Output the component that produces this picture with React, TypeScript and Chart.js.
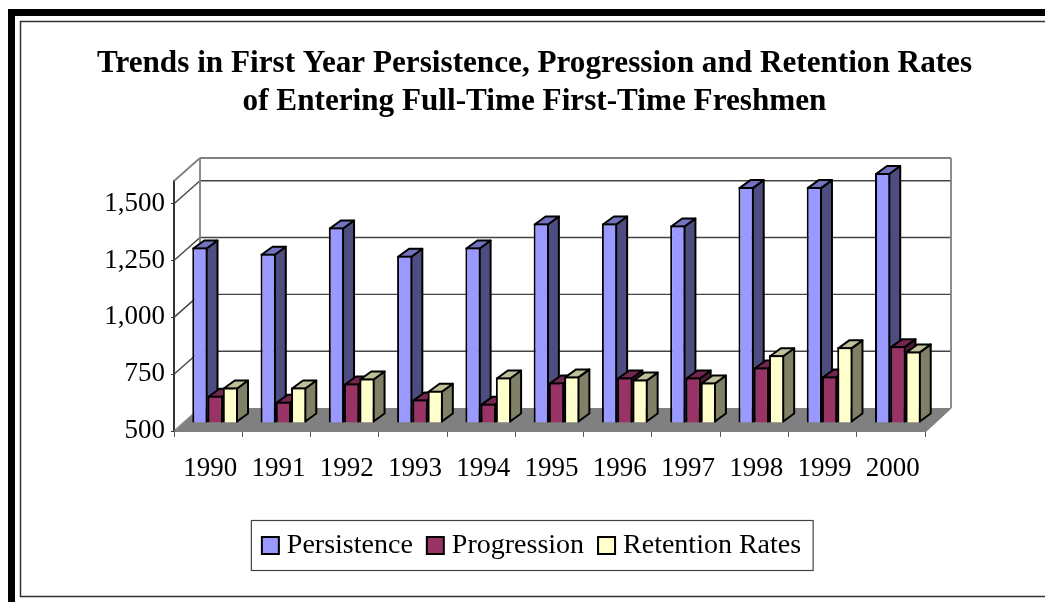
import React, { useEffect, useRef } from "react";
import { Chart, registerables } from "chart.js";

Chart.register(...registerables);

const years = ["1990", "1991", "1992", "1993", "1994", "1995", "1996", "1997", "1998", "1999", "2000"];
const persistence = [1272, 1245, 1360, 1236, 1272, 1378, 1378, 1369, 1538, 1538, 1600];
const progression = [620, 594, 674, 603, 585, 678, 700, 700, 744, 705, 838];
const retention = [656, 656, 696, 642, 700, 705, 691, 678, 798, 833, 815];
const yTickValues = [500, 750, 1000, 1250, 1500];
const titleLines = [
  "Trends in First Year Persistence, Progression and Retention Rates",
  "of Entering Full-Time First-Time Freshmen",
];

const FONT = "'Liberation Serif', 'Times New Roman', serif";
const shades = [
  { front: "#9999FF", side: "#4D4D80", top: "#7373BF" },
  { front: "#993366", side: "#4D1A33", top: "#732650" },
  { front: "#FFFFCC", side: "#808066", top: "#BFBF99" },
];
const WALL_DX = 26;
const WALL_DY = 23;
const BAR_SHIFT_X = 7;
const BAR_SHIFT_Y = -8;
const BAR_DX = 11;
const BAR_DY = 8;

function poly(ctx: CanvasRenderingContext2D, pts: number[][], fill?: string, stroke?: string, lw = 2) {
  ctx.beginPath();
  pts.forEach((p, i) => (i ? ctx.lineTo(p[0], p[1]) : ctx.moveTo(p[0], p[1])));
  ctx.closePath();
  if (fill) {
    ctx.fillStyle = fill;
    ctx.fill();
  }
  if (stroke) {
    ctx.strokeStyle = stroke;
    ctx.lineWidth = lw;
    ctx.lineJoin = "round";
    ctx.stroke();
  }
}

function line(ctx: CanvasRenderingContext2D, x1: number, y1: number, x2: number, y2: number, color: string, lw: number) {
  ctx.beginPath();
  ctx.moveTo(x1, y1);
  ctx.lineTo(x2, y2);
  ctx.strokeStyle = color;
  ctx.lineWidth = lw;
  ctx.stroke();
}

const framePlugin = {
  id: "frame",
  beforeDraw(chart: any) {
    const { ctx, width, height } = chart;
    ctx.save();
    ctx.fillStyle = "#fff";
    ctx.fillRect(0, 0, width, height);
    ctx.fillStyle = "#000";
    ctx.fillRect(8, 9, width - 8, 7);
    ctx.fillRect(8, 9, 7, height - 9);
    ctx.strokeStyle = "#333";
    ctx.lineWidth = 1.5;
    ctx.beginPath();
    ctx.moveTo(width, 21.5);
    ctx.lineTo(20.5, 21.5);
    ctx.lineTo(20.5, 596.5);
    ctx.lineTo(width, 596.5);
    ctx.stroke();
    ctx.restore();
  },
};

const box3dPlugin = {
  id: "box3d",
  beforeDatasetsDraw(chart: any) {
    const { ctx, chartArea: a } = chart;
    const y = chart.scales.y;
    ctx.save();
    const bl = a.left + WALL_DX;
    const br = a.right + WALL_DX;
    const bt = a.top - WALL_DY;
    const bb = a.bottom - WALL_DY;
    poly(ctx, [[a.left, a.bottom + 1], [bl, bb], [br, bb], [a.right, a.bottom + 1]], "#808080");
    y.ticks.forEach((t: any) => {
      if (t.value === y.min) return;
      const py = y.getPixelForValue(t.value);
      line(ctx, a.left, py, bl, py - WALL_DY, "#444", 1.4);
      line(ctx, bl, py - WALL_DY, br, py - WALL_DY, "#444", 1.4);
    });
    line(ctx, a.left, a.bottom, bl, bb, "#808080", 1.4);
    line(ctx, a.left, a.top, bl, bt, "#808080", 1.8);
    line(ctx, bl, bt, br, bt, "#808080", 1.8);
    line(ctx, bl, bt, bl, bb, "#808080", 1.8);
    line(ctx, br, bt, br, bb, "#808080", 1.8);
    line(ctx, a.right, a.bottom + 1, br, bb, "#808080", 1.4);

    // Bars, drawn first series first so later series overlap the sides of earlier ones.
    chart.data.datasets.forEach((_: any, i: number) => {
      const meta = chart.getDatasetMeta(i);
      const s = shades[i];
      ctx.save();
      ctx.translate(BAR_SHIFT_X, BAR_SHIFT_Y);
      meta.data.forEach((el: any) => {
        const p = el.getProps(["x", "y", "base", "width"], true);
        const l = p.x - p.width / 2 + 1;
        const r = p.x + p.width / 2 - 1;
        const t = p.y + 1;
        const b = p.base - 1;
        poly(ctx, [[r, t], [r + BAR_DX, t - BAR_DY], [r + BAR_DX, b - BAR_DY], [r, b]], s.side, "#000");
        poly(ctx, [[l, t], [l + BAR_DX, t - BAR_DY], [r + BAR_DX, t - BAR_DY], [r, t]], s.top, "#000");
      });
      meta.controller.draw();
      ctx.restore();
    });
    ctx.restore();
  },
  beforeDatasetDraw() {
    return false;
  },
  afterDraw(chart: any) {
    const { ctx, legend } = chart;
    const hits = legend.legendHitBoxes;
    ctx.save();
    hits.forEach((h: any, i: number) => {
      const cy = h.top + h.height / 2;
      ctx.fillStyle = shades[i].front;
      ctx.strokeStyle = "#000";
      ctx.lineWidth = 2;
      ctx.fillRect(h.left - 6, cy - 9, 17, 17);
      ctx.strokeRect(h.left - 6, cy - 9, 17, 17);
    });
    const last = hits[hits.length - 1];
    const top = hits[0].top + hits[0].height / 2 - 25.5;
    ctx.strokeStyle = "#444";
    ctx.lineWidth = 1.2;
    ctx.strokeRect(hits[0].left - 16.5, top, last.left + last.width - hits[0].left + 28.5, 50);
    ctx.restore();
  },
};

export default function App() {
  const ref = useRef<HTMLCanvasElement>(null);
  useEffect(() => {
    document.body.style.margin = "0";
    const chart = new Chart(ref.current as HTMLCanvasElement, {
      type: "bar",
      data: {
        labels: years,
        datasets: [
          { label: "Persistence", data: persistence, backgroundColor: shades[0].front },
          { label: "Progression", data: progression, backgroundColor: shades[1].front },
          { label: "Retention Rates", data: retention, backgroundColor: shades[2].front },
        ].map((d) => ({
          ...d,
          borderColor: "#000",
          borderWidth: 2,
          barPercentage: 1,
          categoryPercentage: 0.67,
          base: 500,
          clip: false,
        })) as any,
      },
      options: {
        responsive: false,
        animation: false,
        layout: { padding: { left: 24, right: 0, top: 0, bottom: 32 } },
        plugins: {
          tooltip: { enabled: false },
          title: {
            display: true,
            text: titleLines,
            color: "#000",
            font: { family: FONT, size: 31.2, weight: "bold", lineHeight: 1.218 },
            padding: { top: 45, bottom: 60 },
          },
          legend: {
            position: "bottom",
            onClick: () => {},
            labels: {
              color: "#000",
              boxWidth: 5,
              boxHeight: 5,
              padding: 20,
              font: { family: FONT, size: 28 },
              generateLabels: (c: any) =>
                c.data.datasets.map((d: any, i: number) => ({
                  text: d.label,
                  fillStyle: "rgba(0,0,0,0)",
                  strokeStyle: "rgba(0,0,0,0)",
                  lineWidth: 0,
                  datasetIndex: i,
                  fontColor: "#000",
                })),
            },
          },
        },
        scales: {
          x: {
            type: "category",
            offset: true,
            border: { display: true, color: "#000", width: 2 },
            grid: { drawOnChartArea: false, drawTicks: true, tickLength: 6, tickColor: "#555", offset: true },
            ticks: {
              color: "#000",
              padding: 16,
              labelOffset: 2,
              maxRotation: 0,
              autoSkip: false,
              font: { family: FONT, size: 27 },
            },
            afterFit: (s: any) => {
              s.height = 81;
            },
          },
          y: {
            type: "linear",
            min: 500,
            max: 1600,
            border: { display: true, color: "#333", width: 2 },
            grid: { drawOnChartArea: false, drawTicks: true, tickLength: 3, tickColor: "#333" },
            ticks: {
              color: "#000",
              padding: 6,
              stepSize: 250,
              autoSkip: false,
              font: { family: FONT, size: 27 },
              callback: (v: any) => Number(v).toLocaleString("en-US"),
            },
            afterBuildTicks: (s: any) => {
              s.ticks = yTickValues.map((value) => ({ value }));
            },
            afterFit: (s: any) => {
              s.width = 150;
            },
          },
          rightGutter: {
            type: "linear",
            position: "right",
            display: true,
            border: { display: false },
            grid: { display: false },
            ticks: { display: false },
            afterFit: (s: any) => {
              s.width = 120;
            },
          },
        },
      },
      plugins: [framePlugin, box3dPlugin],
    } as any);
    return () => chart.destroy();
  }, []);
  return <canvas ref={ref} width={1045} height={602} style={{ display: "block" }} />;
}
